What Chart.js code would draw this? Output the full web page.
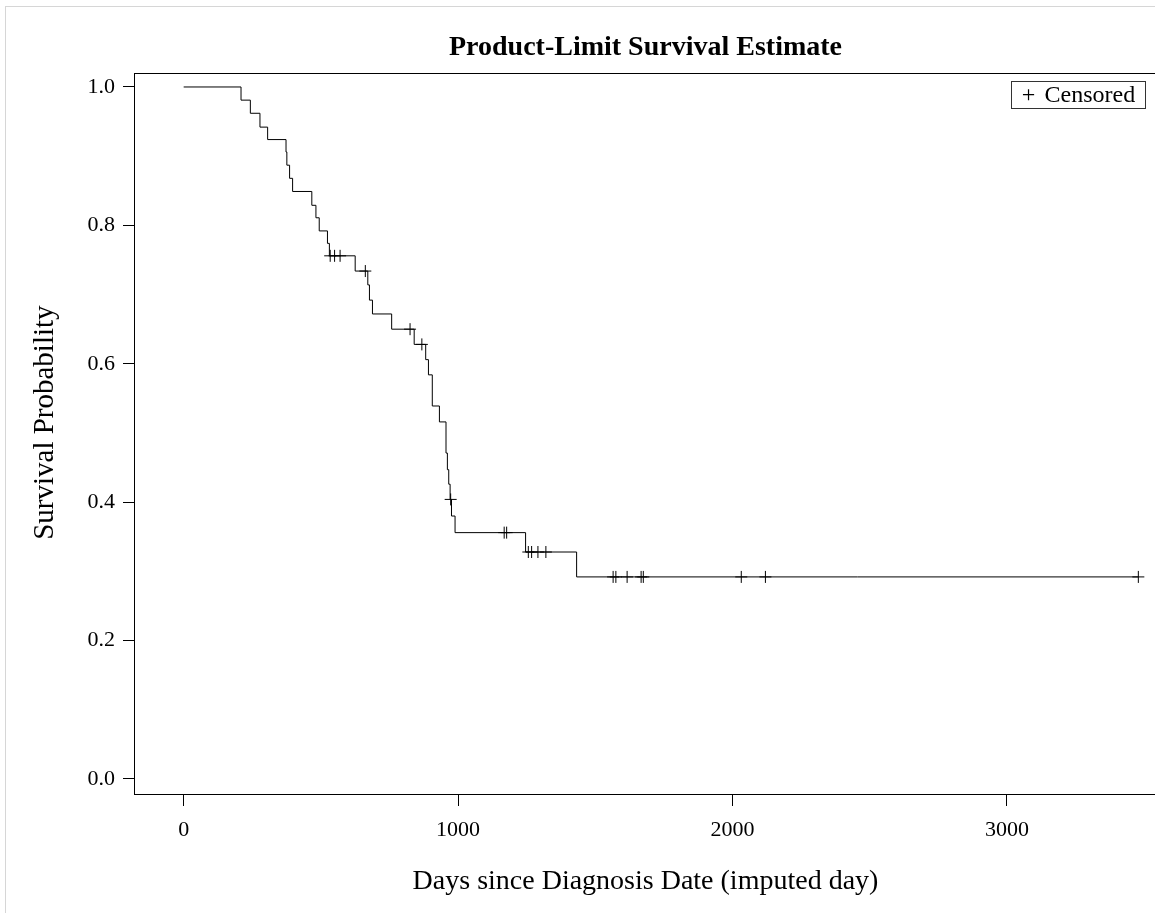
<!DOCTYPE html>
<html>
<head>
<meta charset="utf-8">
<title>Product-Limit Survival Estimate</title>
<script src="https://cdn.jsdelivr.net/npm/chart.js@4.4.1/dist/chart.umd.min.js"></script>
<style>
    html, body { margin: 0; padding: 0; background: #fff; overflow: hidden; }
    #wrap { position: relative; width: 1155px; height: 913px; overflow: hidden; }
    #frame { position: absolute; left: 5px; top: 6px; width: 1200px; height: 1000px;
             border-top: 1px solid #d6d6d6; border-left: 1px solid #d6d6d6; }
    #chart { position: absolute; left: 0; top: 0; }
</style>
</head>
<body>
<div id="wrap">
    <div id="frame"></div>
    <canvas id="chart" width="1164" height="913"></canvas>
</div>
<script>
// 生存曲线: 事件时间 (天) 与对应的生存概率
const eventDays = [0, 209, 243, 278, 306, 373, 376, 386, 397, 467, 482, 494, 524, 531,
                   625, 671, 677, 688, 758, 840, 882, 892, 906, 932, 956, 961, 966, 971,
                   976, 989, 1246, 1432, 3479];
const survival  = [1.000, 0.981, 0.962, 0.942, 0.924, 0.906, 0.887, 0.868, 0.849, 0.829,
                   0.811, 0.792, 0.774, 0.756, 0.734, 0.714, 0.692, 0.672, 0.650, 0.628,
                   0.606, 0.584, 0.539, 0.516, 0.471, 0.447, 0.426, 0.404, 0.380, 0.356,
                   0.328, 0.292, 0.292];

// 删失点
const censorDays = [534, 550, 570, 662, 825, 868, 973, 1168, 1177, 1256, 1268, 1291, 1320,
                    1565, 1575, 1616, 1667, 1675, 2032, 2120, 3479];
const censorSurv = [0.756, 0.756, 0.756, 0.734, 0.650, 0.628, 0.404, 0.356, 0.356, 0.328,
                    0.328, 0.328, 0.328, 0.292, 0.292, 0.292, 0.292, 0.292, 0.292, 0.292, 0.292];

// 坐标轴刻度
const xTicks = [0, 1000, 2000, 3000];
const yTicks = [0.0, 0.2, 0.4, 0.6, 0.8, 1.0];

const SERIF = "'Liberation Serif', 'Times New Roman', serif";

// 图框和图例框
const framePlugin = {
    id: 'frame',
    afterDraw(chart) {
        const ctx = chart.ctx;
        const a = chart.chartArea;
        ctx.save();
        ctx.strokeStyle = '#000';
        ctx.lineWidth = 1;
        ctx.strokeRect(Math.round(a.left) + 0.5, Math.round(a.top) + 0.5,
                       Math.round(a.right - a.left), Math.round(a.bottom - a.top));

        // 图例
        const bx = Math.round(a.right) - 146 + 0.5;
        const by = Math.round(a.top) + 8 + 0.5;
        ctx.strokeStyle = '#333';
        ctx.strokeRect(bx, by, 134, 27);
        ctx.fillStyle = '#000';
        ctx.font = '24px ' + SERIF;
        ctx.textBaseline = 'middle';
        ctx.textAlign = 'center';
        ctx.fillText('+', bx + 17, by + 14);
        ctx.textAlign = 'left';
        ctx.fillText('Censored', bx + 33, by + 14);
        ctx.restore();
    }
};

new Chart(document.getElementById('chart'), {
    type: 'line',
    data: {
        datasets: [{
            label: 'Survival',
            data: eventDays.map((d, i) => ({ x: d, y: survival[i] })),
            stepped: true,
            borderColor: '#000',
            borderWidth: 1,
            pointRadius: 0,
            pointHoverRadius: 0,
            fill: false
        }, {
            label: 'Censored',
            data: censorDays.map((d, i) => ({ x: d, y: censorSurv[i] })),
            showLine: false,
            pointStyle: 'cross',
            pointRadius: 6,
            pointHoverRadius: 6,
            pointBorderColor: '#000',
            pointBorderWidth: 1
        }]
    },
    options: {
        responsive: false,
        animation: false,
        devicePixelRatio: 1,
        layout: { padding: { top: 20, left: 0, right: 0, bottom: 0 } },
        plugins: {
            legend: { display: false },
            tooltip: { enabled: false },
            title: {
                display: true,
                text: 'Product-Limit Survival Estimate',
                fullSize: false,
                color: '#000',
                font: { family: SERIF, size: 28, weight: 'bold' },
                padding: { top: 11, bottom: 8.4 }
            }
        },
        scales: {
            x: {
                type: 'linear',
                min: -181,
                max: 3547,
                afterBuildTicks: s => { s.ticks = xTicks.map(v => ({ value: v })); },
                afterFit: s => { s.height = 119; },
                border: { display: false },
                grid: { display: true, drawOnChartArea: false, drawTicks: true, tickLength: 12, color: '#000' },
                ticks: {
                    color: '#000',
                    font: { family: SERIF, size: 22 },
                    padding: 11,
                    maxRotation: 0,
                    callback: v => String(v)
                },
                title: {
                    display: true,
                    text: 'Days since Diagnosis Date (imputed day)',
                    color: '#000',
                    font: { family: SERIF, size: 28 },
                    padding: { top: 0, bottom: 15 }
                }
            },
            y: {
                type: 'linear',
                min: -0.0217,
                max: 1.0202,
                afterBuildTicks: s => { s.ticks = yTicks.map(v => ({ value: v })); },
                afterFit: s => { s.width = 134; },
                border: { display: false },
                grid: { display: true, drawOnChartArea: false, drawTicks: true, tickLength: 11, color: '#000' },
                ticks: {
                    color: '#000',
                    font: { family: SERIF, size: 22 },
                    padding: 8,
                    callback: v => v.toFixed(1)
                },
                title: {
                    display: true,
                    text: '   Survival Probability',
                    color: '#000',
                    font: { family: SERIF, size: 29 },
                    padding: { top: 28, bottom: 0 }
                }
            }
        }
    },
    plugins: [framePlugin]
});
</script>
</body>
</html>
